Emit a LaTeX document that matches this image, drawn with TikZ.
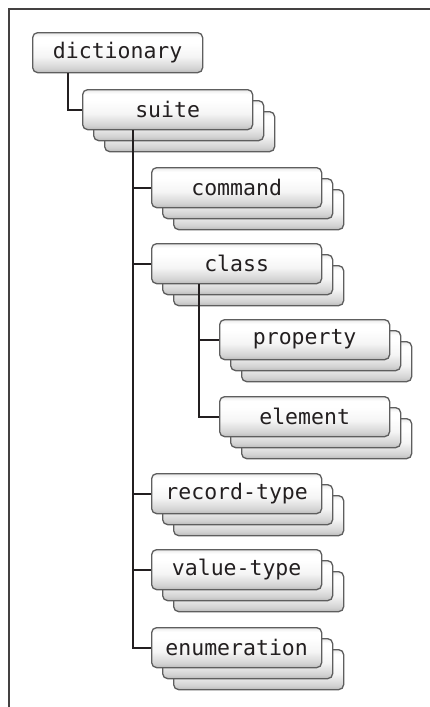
\documentclass[tikz,border=0pt]{standalone}
\usepackage{fontspec}
\setmonofont{DejaVu Sans Mono}
\definecolor{boxline}{HTML}{5E5E5E}
\definecolor{wire}{HTML}{231F20}
\pgfdeclareverticalshading{cardfill}{100bp}{color(0bp)=(gray!55); color(25bp)=(gray!55);
  color(30bp)=(gray!35); color(45bp)=(gray!8); color(62bp)=(white);
  color(70bp)=(white); color(75bp)=(gray!18); color(100bp)=(gray!18)}

\begin{document}
\begin{tikzpicture}[x=1pt,y=-1pt]
\tikzset{
  card/.style={draw=boxline,line width=1.3pt,rounded corners=5pt,shading=cardfill,
    minimum width=170pt,minimum height=40pt,inner sep=0pt,anchor=north west,
    font=\fontsize{21.5}{21.5}\selectfont\ttfamily,text=wire},
  link/.style={draw=wire,line width=2pt}
}
% three cards, one behind the other
\newcommand\stack[4]{
  \node[card] (#1-3) at (#2+22,#3+22) {};
  \node[card] (#1-2) at (#2+11,#3+11) {};
  \node[card] (#1) at (#2,#3) {#4};
}
\useasboundingbox (0,0) rectangle (430,707);
\draw[draw=wire!85,line width=2.5pt] (9,707) -- (9,9) -- (430,9);

\node[card] (dictionary) at (32,32) {dictionary};
\stack{suite}{82}{89}{suite}
\stack{command}{151}{167}{command}
\stack{class}{151}{243}{class}
\stack{property}{219}{319}{property}
\stack{element}{219}{396}{element}
\stack{record-type}{151}{473}{record-type}
\stack{value-type}{151}{549}{value-type}
\stack{enumeration}{151}{627}{enumeration}

\draw[link] ([xshift=36pt]dictionary.south west) |- (suite.west);
\foreach \c in {command,class,record-type,value-type,enumeration}
  \draw[link] ([xshift=51pt]suite.south west) |- (\c.west);
\foreach \c in {property,element}
  \draw[link] ([xshift=48pt]class.south west) |- (\c.west);
\end{tikzpicture}
\end{document}
